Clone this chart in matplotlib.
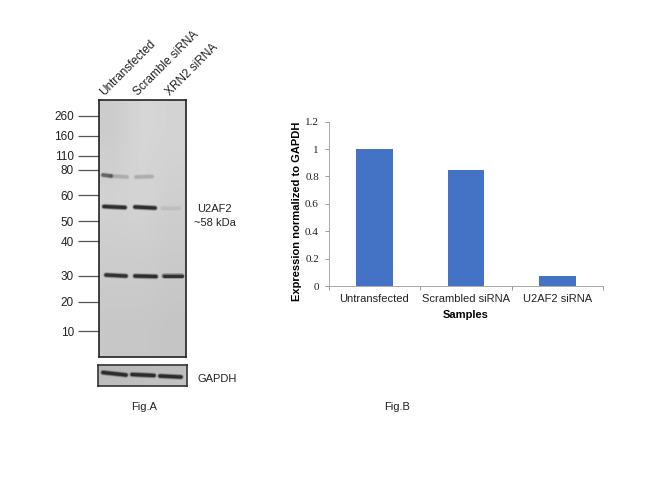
import matplotlib
matplotlib.use("Agg")
import matplotlib.pyplot as plt

plt.rcParams["font.family"] = ["Liberation Sans", "DejaVu Sans"]

W, H = 650, 495

# bar chart
samples = ["Untransfected", "Scrambled siRNA", "U2AF2 siRNA"]
expression = [1.0, 0.85, 0.07]
y_ticks = [0, 0.2, 0.4, 0.6, 0.8, 1, 1.2]
y_tick_labels = ["0", "0.2", "0.4", "0.6", "0.8", "1", "1.2"]

# blot, read in image pixels
lane_names = ["Untransfected", "Scramble siRNA", "XRN2 siRNA"]
lane_label_x = [106, 140, 172]
marker_labels = ["260", "160", "110", "80", "60", "50", "40", "30", "20", "10"]
marker_y = [115.7, 136, 155.5, 170, 195, 221, 241, 276, 301.5, 331]
blot_shade = [[0.80, 0.84, 0.83], [0.82, 0.83, 0.81], [0.80, 0.80, 0.79], [0.78, 0.78, 0.77]]
# x start, x end, y start, y end, darkness
blot_bands = [
    (103, 111, 175, 176, 0.55),
    (111, 127, 176, 177, 0.16),
    (136, 152, 177, 176.5, 0.16),
    (104, 125, 206.5, 207.5, 1.0),
    (135, 155, 207, 208, 1.0),
    (162, 179, 207.5, 207.5, 0.07),
    (106, 126, 275, 276, 0.95),
    (135, 156, 276, 276.5, 1.0),
    (164, 182, 275.5, 275.5, 0.95),
]
gapdh_bands = [
    (103, 126, 372.5, 375, 1.0),
    (132, 154, 374.5, 375.5, 1.0),
    (160, 181, 376, 377, 1.0),
]


def draw_bands(ax, bands):
    for x0, x1, y0, y1, dark in bands:
        for lw, alpha in [(4.2, 0.18), (3.2, 0.35), (2.2, 0.7)]:
            ax.plot([x0, x1], [y0, y1], color="#111111", lw=lw, alpha=alpha * dark,
                    solid_capstyle="round")


def pixel_axes(fig, left, top, right, bottom):
    ax = fig.add_axes([left / W, 1 - bottom / H, (right - left) / W, (bottom - top) / H])
    ax.set_xlim(left, right)
    ax.set_ylim(bottom, top)
    return ax


fig = plt.figure(figsize=(W / 100, H / 100), dpi=100, facecolor="white")

# Fig.A main blot
blot = pixel_axes(fig, 99, 100, 186, 357)
blot.imshow(blot_shade, cmap="gray", vmin=0, vmax=1, extent=(99, 186, 357, 100),
            aspect="auto", interpolation="bilinear")
draw_bands(blot, blot_bands)
blot.set_xlim(99, 186)
blot.set_ylim(357, 100)
blot.set_xticks([])
blot.set_yticks(marker_y, marker_labels)
blot.tick_params(axis="y", length=15, width=0.9, color="#555555", pad=3, labelsize=8.5,
                 labelcolor="#222222")
for spine in blot.spines.values():
    spine.set_linewidth(1.2)
    spine.set_color("#222222")

# GAPDH strip
strip = pixel_axes(fig, 97.5, 365, 186.5, 386)
strip.imshow([[0.72, 0.74], [0.74, 0.76]], cmap="gray", vmin=0, vmax=1,
             extent=(97.5, 186.5, 386, 365), aspect="auto", interpolation="bilinear")
draw_bands(strip, gapdh_bands)
strip.set_xlim(97.5, 186.5)
strip.set_ylim(386, 365)
strip.set_xticks([])
strip.set_yticks([])
for spine in strip.spines.values():
    spine.set_linewidth(1.2)
    spine.set_color("#333333")

# Fig.B bars
ax = pixel_axes(fig, 328.7, 121.7, 603, 286)
ax.bar(range(len(samples)), expression, width=0.4, color="#4472C4")
ax.set_xlim(-0.5, 2.5)
ax.set_ylim(0, 1.2)
ax.set_yticks(y_ticks, y_tick_labels, family="Liberation Serif", fontsize=8)
ax.set_xticks([-0.5, 0.5, 1.5, 2.5], [])
ax.set_xticks(range(len(samples)), samples, minor=True, fontsize=8, color="#222222")
ax.tick_params(axis="x", which="minor", length=0, pad=6)
ax.tick_params(axis="x", which="major", length=3, width=0.7, color="#999999")
ax.tick_params(axis="y", length=3, width=0.7, color="#999999", pad=4, labelcolor="#222222")
ax.spines["top"].set_visible(False)
ax.spines["right"].set_visible(False)
ax.spines["left"].set_color("#aaaaaa")
ax.spines["bottom"].set_color("#aaaaaa")
ax.spines["left"].set_linewidth(0.7)
ax.spines["bottom"].set_linewidth(0.7)


def label(x, y, text, **kwargs):
    kwargs.setdefault("fontsize", 8)
    kwargs.setdefault("color", "#222222")
    fig.text(x / W, 1 - y / H, text, **kwargs)


for name, x in zip(lane_names, lane_label_x):
    label(x, 98, name, rotation=45, rotation_mode="anchor", ha="left", va="bottom", fontsize=8.5)

label(197, 209, "U2AF2", va="center", fontsize=8)
label(194, 223, "~58 kDa", va="center", fontsize=8)
label(198, 378.5, "GAPDH", va="center", fontsize=8)
label(144, 407, "Fig.A", ha="center", va="center", fontsize=8)
label(397, 407, "Fig.B", ha="center", va="center", fontsize=8)
label(466, 314.5, "Samples", ha="center", va="center", fontsize=8, fontweight="bold", color="black")
label(297, 211, "Expression normalized to GAPDH", ha="center", va="center", rotation=90,
      fontsize=8, fontweight="bold", color="black")

fig.savefig("out.png", dpi=100)
